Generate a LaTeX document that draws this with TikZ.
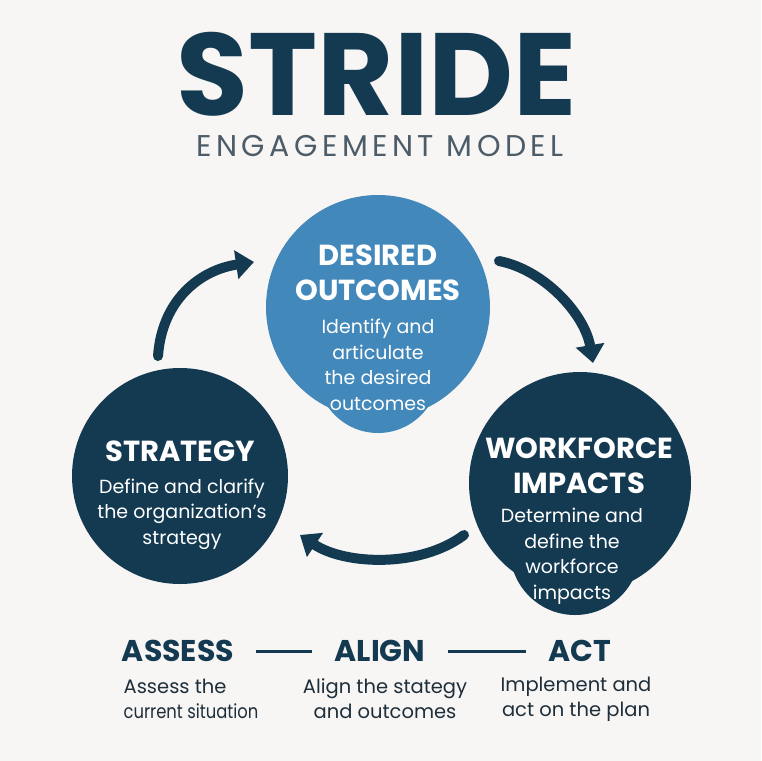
\documentclass[tikz,border=0pt]{standalone}
\usepackage{fontspec}
\setmainfont{Poppins}
\usetikzlibrary{arrows.meta}
\definecolor{bg}{HTML}{F7F6F4}
\definecolor{navy}{HTML}{143A52}
\definecolor{sky}{HTML}{4288BA}
\definecolor{subgray}{HTML}{4C5C68}
\definecolor{ink}{HTML}{1E2E3A}
\begin{document}
\begin{tikzpicture}[x=1pt,y=-1pt,
  blob/.style={circle,inner sep=0pt,draw=none},
  head/.style={text=white,font=\fontsize{29}{35}\selectfont\bfseries,align=center},
  desc/.style={text=white,font=\fontsize{19}{25.5}\selectfont,align=center},
  flow/.style={line width=10pt,draw=navy,line cap=round,-{Triangle[length=18pt,width=28pt]}},
  stage/.style={text=navy,font=\fontsize{30}{34}\selectfont\bfseries,inner sep=0pt},
  stagedesc/.style={text=ink,font=\fontsize{19.5}{25}\selectfont,align=center},
  dashline/.style={draw=navy,line width=3pt,shorten <=22pt,shorten >=22pt},
]
\fill[bg] (0,0) rectangle (761,761);
\useasboundingbox (0,0) rectangle (761,761);

% title
\node[text=navy,font=\fontsize{117}{117}\selectfont\bfseries,inner sep=0pt,text depth=0pt] (title) at (377,74) {STRIDE};
\node[text=subgray,font=\fontsize{30}{30}\selectfont\addfontfeatures{LetterSpace=15},inner sep=0pt] (sub) at (380,146) {ENGAGEMENT MODEL};

% circles
\node[blob,fill=sky,minimum size=224pt] (dout) at (378,307) {};
\node[blob,fill=sky,minimum size=122pt] (doutlobe) at (378,372) {};
\node[blob,fill=navy,minimum size=216pt] (strat) at (180,476) {};
\node[blob,fill=navy,minimum size=222pt] (work) at (580,483) {};
\node[blob,fill=navy,minimum size=130pt] (worklobe) at (575,550) {};

% arrows
\coordinate (a1s) at (158,356);
\coordinate (a1e) at (254,262);
\coordinate (a2s) at (499,261);
\coordinate (a2e) at (593,363);
\coordinate (a3s) at (464,535);
\coordinate (a3e) at (300,535);
\draw[flow] (a1s) .. controls (162,300) and (200,270) .. (a1e);
\draw[flow] (a2s) .. controls (545,270) and (585,315) .. (a2e);
\draw[flow] (a3s) .. controls (420,568) and (345,565) .. (a3e);

% circle texts
\node[head] (douth) at (378,273) {DESIRED\\OUTCOMES};
\node[desc] (doutd) at (378,365) {Identify and\\articulate\\the desired\\outcomes};
\node[head] (strath) at (180,451) {STRATEGY};
\node[desc] (stratd) at (182,514) {Define and clarify\\the organization’s\\strategy};
\node[head] (workh) at (579,466) {WORKFORCE\\IMPACTS};
\node[desc] (workd) at (572,556) {Determine and\\define the\\workforce\\impacts};

% bottom row
\node[stage] (assess) at (178,651) {ASSESS};
\node[stage] (align) at (380,651) {ALIGN};
\node[stage] (act) at (580,651) {ACT};
\draw[dashline] (assess.east) -- (align.west);
\draw[dashline] (align.east) -- (act.west);
\node[stagedesc,align=left] (assessd) at (191,699) {Assess the\\\scalebox{0.84}[1]{current situation}};
\node[stagedesc] (alignd) at (385,699) {Align the stategy\\and outcomes};
\node[stagedesc] (actd) at (576,699) {Implement and\\act on the plan};
\end{tikzpicture}
\end{document}
